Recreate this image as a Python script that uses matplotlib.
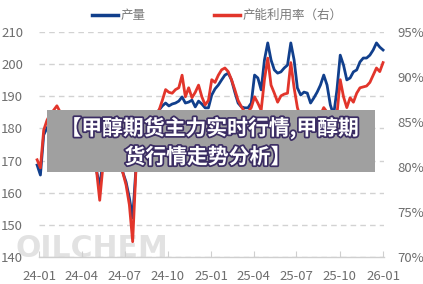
import matplotlib
matplotlib.use('Agg')
import matplotlib.pyplot as plt
import matplotlib.dates as mdates
import matplotlib.patheffects as pe
from matplotlib.patches import Rectangle
from matplotlib.lines import Line2D
import pandas as pd

plt.rcParams['font.family'] = ['Noto Sans CJK SC', 'DejaVu Sans']

# weekly data
dates = pd.date_range('2023-12-28', periods=106, freq='7D')

output = [168.6, 165.5, 178.0, 180.1, 182.0, 183.2, 184.2, 182.6, 181.1, 179.5,
          180.1, 178.0, 176.4, 178.9, 177.0, 174.8, 173.3, 170.2, 167.1, 161.8,
          170.2, 173.3, 174.8, 173.3, 171.7, 169.6, 166.4, 163.3, 158.4, 152.1,
          167.7, 173.3, 176.4, 178.9, 181.1, 183.2, 184.5,
          185.7, 187.0, 187.9, 187.0, 187.6, 187.9, 188.5, 189.8, 187.9, 188.2,
          188.8, 186.7, 188.5, 187.6, 186.4, 186.4, 190.4, 192.3, 193.5, 195.1,
          196.6, 197.2, 195.1, 191.3, 187.9, 186.7, 186.4, 186.4, 187.9, 196.6,
          195.7, 192.0, 201.3, 206.6, 201.3, 198.2, 197.2, 197.6, 198.8, 199.7,
          206.6, 201.3, 192.6, 190.4, 191.3, 191.0, 187.9, 189.5, 191.3, 193.5,
          196.6, 193.5, 187.3, 184.2, 192.0, 202.8, 199.7, 195.1, 195.7, 197.6,
          198.2, 200.7, 201.9, 201.9, 202.8, 204.4, 206.6, 205.3, 204.4]

util = [80.8, 79.9, 84.1, 85.2, 85.9, 86.3, 86.8, 86.1, 85.4, 84.7,
        85.0, 84.1, 83.6, 84.3, 83.6, 82.8, 81.9, 81.0, 79.7, 76.3,
        80.2, 81.7, 82.1, 81.7, 81.0, 80.2, 79.4, 78.0, 75.8, 71.7,
        79.7, 81.7, 83.0, 84.1, 84.8, 85.4, 86.0,
        86.3, 87.4, 88.6, 88.3, 88.2, 88.6, 88.8, 90.2, 87.8, 88.8,
        87.7, 88.3, 89.1, 87.8, 86.9, 87.4, 89.7, 89.4, 90.2, 90.8,
        91.0, 90.6, 89.7, 88.6, 87.4, 86.7, 86.1, 86.1, 86.6, 87.8,
        87.1, 86.3, 89.7, 92.1, 89.1, 88.2, 87.2, 87.9, 88.1, 88.2,
        91.6, 88.8, 86.6, 85.4, 84.7, 84.1, 83.6, 84.1, 85.0, 85.8,
        86.6, 86.1, 83.6, 81.9, 85.8, 89.7, 87.8, 86.6, 87.7, 87.2,
        88.2, 88.8, 88.9, 89.0, 89.4, 90.2, 91.0, 90.6, 91.6]

left_ticks = [140, 150, 160, 170, 180, 190, 200, 210]
right_ticks = [70, 75, 80, 85, 90, 95]
right_labels = ['70%', '75%', '80%', '85%', '90%', '95%']
x_tick_dates = pd.to_datetime(['2024-01-01', '2024-04-01', '2024-07-01', '2024-10-01',
                               '2025-01-01', '2025-04-01', '2025-07-01', '2025-10-01',
                               '2026-01-01'])
x_tick_labels = ['24-01', '24-04', '24-07', '24-10', '25-01', '25-04', '25-07', '25-10', '26-01']

series_names = ['产量', '产能利用率（右）']
title_lines = ['【甲醇期货主力实时行情,甲醇期', '货行情走势分析】']
watermark = 'OILCHEM'

BLUE = '#113f8c'
RED = '#e2352b'
TICK = '#6e6e6e'
GRID = '#d2d2d2'

W, H = 423, 284
fig = plt.figure(figsize=(W / 100, H / 100), dpi=100)
fig.patch.set_facecolor('white')

ax = fig.add_axes([39 / W, 1 - 257 / H, 345 / W, 225 / H])
ax.set_facecolor('none')
ax2 = ax.twinx()

ax.set_ylim(140, 210)
ax2.set_ylim(70, 95)
ax.set_xlim(pd.Timestamp('2024-01-01'), pd.Timestamp('2026-01-03'))

ax.set_yticks(left_ticks)
ax.set_yticklabels([str(t) for t in left_ticks])
ax2.set_yticks(right_ticks)
ax2.set_yticklabels(right_labels)
ax.set_xticks(x_tick_dates)
ax.set_xticklabels(x_tick_labels)

ax.grid(axis='y', linestyle=(0, (4, 3)), color=GRID, linewidth=1)
ax.grid(axis='x', visible=False)
for a in (ax, ax2):
    for s in a.spines.values():
        s.set_visible(False)
ax.spines['bottom'].set_visible(True)
ax.spines['bottom'].set_color('#cfcfcf')
ax.spines['bottom'].set_linewidth(1)

ax.tick_params(axis='y', length=0, pad=11.5, labelcolor=TICK, labelsize=9.5)
ax2.tick_params(axis='y', length=0, pad=9.5, labelcolor=TICK, labelsize=9.5)
ax.tick_params(axis='x', direction='in', length=4, color='#cfcfcf', pad=9,
               labelcolor=TICK, labelsize=9.5)

ax.plot(dates, output, color=BLUE, linewidth=2.0, clip_on=False, zorder=3)
ax2.plot(dates, util, color=RED, linewidth=2.0, clip_on=False, zorder=3)

# legend
ly = 1 - 15 / H
fig.add_artist(Line2D([92 / W, 118 / W], [ly, ly], color=BLUE, linewidth=2.5,
                      transform=fig.transFigure))
fig.text(121 / W, ly, series_names[0], color='#7a7a7a', fontsize=9, va='center', ha='left')
fig.add_artist(Line2D([214 / W, 240 / W], [ly, ly], color=RED, linewidth=2.5,
                      transform=fig.transFigure))
fig.text(243 / W, ly, series_names[1], color='#7a7a7a', fontsize=9, va='center', ha='left')

# watermark
fig.text(15 / W, 1 - 257 / H, watermark, fontsize=21.5, weight='bold', family='DejaVu Sans',
         color='#e2e2e2', va='baseline', ha='left', zorder=-1)

# overlay box
fig.add_artist(Rectangle((47 / W, 1 - 172 / H), 328 / W, 62 / H, transform=fig.transFigure,
                         facecolor='#a0a0a0', edgecolor='none', zorder=20))
stroke = [pe.withStroke(linewidth=2.5, foreground='#3b2d63')]
fig.text(210 / W, 1 - 128 / H, title_lines[0], ha='center', va='center', fontsize=15,
         weight='bold', color='white', path_effects=stroke, zorder=21)
fig.text(208 / W, 1 - 157 / H, title_lines[1], ha='center', va='center', fontsize=15,
         weight='bold', color='white', path_effects=stroke, zorder=21)

fig.savefig('out.png', dpi=100)
